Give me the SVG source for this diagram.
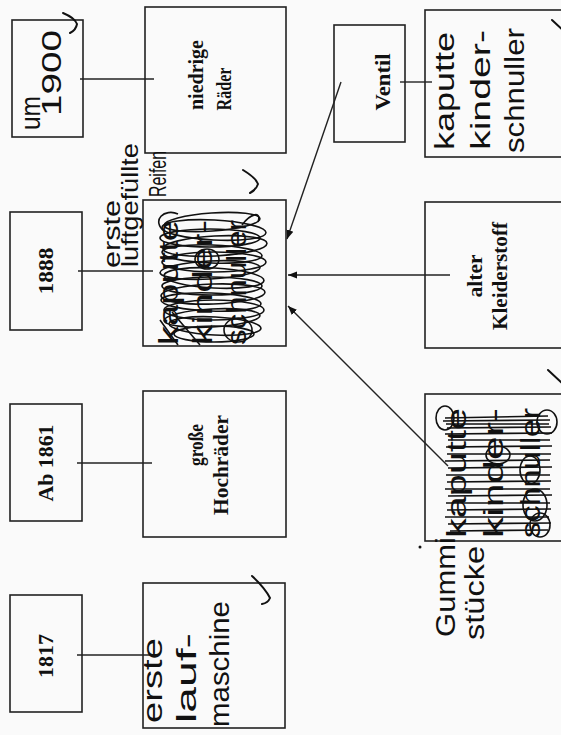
<svg xmlns="http://www.w3.org/2000/svg" width="561" height="735" viewBox="0 0 561 735">
<defs>
<style>
.box{fill:none;stroke:#222;stroke-width:1.6}
.ln{fill:none;stroke:#222;stroke-width:1.4}
.pr{font-family:"Liberation Serif",serif;font-weight:bold;font-size:22px;fill:#111;text-anchor:middle}
.hw{font-family:"Liberation Sans",sans-serif;font-size:27px;fill:#111}
.hs{font-family:"Liberation Sans",sans-serif;font-size:24px;fill:#111}
.scr{fill:none;stroke:#111;stroke-width:1.6}
.chk{fill:none;stroke:#111;stroke-width:2;stroke-linecap:round}
</style>
<marker id="ah" viewBox="0 0 10 10" refX="10" refY="5" markerWidth="9" markerHeight="9" orient="auto" markerUnits="userSpaceOnUse">
<path d="M0,1 L10,5 L0,9 z" fill="#111"/>
</marker>
</defs>
<rect width="561" height="735" fill="#fafafa"/>

<g id="connectors">
<line class="ln" x1="80" y1="79" x2="154" y2="79"/>
<line class="ln" x1="78" y1="271" x2="153" y2="271"/>
<line class="ln" x1="77" y1="463" x2="152" y2="463"/>
<line class="ln" x1="77" y1="655" x2="151" y2="655"/>
<line class="ln" x1="400" y1="82" x2="432" y2="82"/>
<line class="ln" x1="341" y1="82" x2="287" y2="239" marker-end="url(#ah)"/>
<line class="ln" x1="450" y1="275" x2="288" y2="275" marker-end="url(#ah)"/>
<line class="ln" x1="448" y1="466" x2="288" y2="306" marker-end="url(#ah)"/>
</g>

<g id="n-um1900">
<rect class="box" x="12" y="20" width="71" height="117"/>
<text class="hw" transform="translate(40,130) rotate(-90)" textLength="34" lengthAdjust="spacingAndGlyphs">um</text>
<text class="hw" transform="translate(61,116) rotate(-90)" textLength="86" lengthAdjust="spacingAndGlyphs">1900</text>
</g>

<g id="n-1888">
<rect class="box" x="10" y="212" width="72" height="118"/>
<text class="pr" transform="translate(53,271) rotate(-90)" textLength="47" lengthAdjust="spacingAndGlyphs">1888</text>
</g>

<g id="n-ab1861">
<rect class="box" x="10" y="404" width="72" height="117"/>
<text class="pr" transform="translate(53,463) rotate(-90)" textLength="77" lengthAdjust="spacingAndGlyphs">Ab 1861</text>
</g>

<g id="n-1817">
<rect class="box" x="10" y="595" width="72" height="117"/>
<text class="pr" transform="translate(53,656) rotate(-90)" textLength="44" lengthAdjust="spacingAndGlyphs">1817</text>
</g>

<g id="n-niedrige">
<rect class="box" x="145" y="7" width="141" height="146"/>
<text class="pr" transform="translate(203,75) rotate(-90)" textLength="70" lengthAdjust="spacingAndGlyphs">niedrige</text>
<text class="pr" transform="translate(231,89) rotate(-90)" textLength="43" lengthAdjust="spacingAndGlyphs">Räder</text>
</g>

<g id="n-reifen">
<rect class="box" x="143" y="200" width="143" height="146"/>
<text class="hs" transform="translate(120,268) rotate(-90)" textLength="68" lengthAdjust="spacingAndGlyphs">erste</text>
<text class="hs" transform="translate(138,267) rotate(-90)" textLength="124" lengthAdjust="spacingAndGlyphs">luftgefüllte</text>
<text class="hs" transform="translate(166,197) rotate(-90)" textLength="46" lengthAdjust="spacingAndGlyphs">Reifen</text>
<text class="hw" transform="translate(178,345) rotate(-90)" textLength="125" lengthAdjust="spacingAndGlyphs">kaputte</text>
<text class="hw" transform="translate(212,345) rotate(-90)" textLength="125" lengthAdjust="spacingAndGlyphs">kinder-</text>
<text class="hw" transform="translate(246,345) rotate(-90)" textLength="125" lengthAdjust="spacingAndGlyphs">schnuller</text>
<g class="scr">
<ellipse cx="212" cy="222" rx="48" ry="9" transform="rotate(-4 212 222)"/>
<ellipse cx="214" cy="230" rx="52" ry="10" transform="rotate(3 214 230)"/>
<ellipse cx="210" cy="238" rx="50" ry="9"/>
<ellipse cx="215" cy="246" rx="52" ry="10" transform="rotate(-3 215 246)"/>
<ellipse cx="212" cy="254" rx="50" ry="9" transform="rotate(2 212 254)"/>
<ellipse cx="214" cy="262" rx="52" ry="10"/>
<ellipse cx="210" cy="270" rx="50" ry="9" transform="rotate(-3 210 270)"/>
<ellipse cx="214" cy="278" rx="50" ry="10" transform="rotate(3 214 278)"/>
<ellipse cx="212" cy="286" rx="50" ry="9"/>
<ellipse cx="213" cy="294" rx="52" ry="10" transform="rotate(-2 213 294)"/>
<ellipse cx="211" cy="302" rx="50" ry="9" transform="rotate(2 211 302)"/>
<ellipse cx="214" cy="310" rx="50" ry="10"/>
<ellipse cx="212" cy="318" rx="48" ry="9" transform="rotate(-3 212 318)"/>
<ellipse cx="215" cy="326" rx="46" ry="9" transform="rotate(3 215 326)"/>
<ellipse cx="214" cy="334" rx="40" ry="8"/>
<ellipse cx="207" cy="259" rx="12" ry="10"/>
<ellipse cx="238" cy="330" rx="14" ry="12"/>
<path d="M165,232 C150,220 165,208 178,214 M242,225 C250,214 262,210 258,222 M178,345 L160,320 M200,345 L172,312"/>
</g>
</g>

<g id="n-hochraeder">
<rect class="box" x="143" y="391" width="143" height="146"/>
<text class="pr" transform="translate(203,445) rotate(-90)" textLength="42" lengthAdjust="spacingAndGlyphs">große</text>
<text class="pr" transform="translate(228,465) rotate(-90)" textLength="100" lengthAdjust="spacingAndGlyphs">Hochräder</text>
</g>

<g id="n-laufmaschine">
<rect class="box" x="143" y="583" width="142" height="145"/>
<text class="hw" transform="translate(162,723) rotate(-90)" textLength="85" lengthAdjust="spacingAndGlyphs">erste</text>
<text class="hw" transform="translate(196,723) rotate(-90)" textLength="90" lengthAdjust="spacingAndGlyphs">lauf-</text>
<text class="hw" transform="translate(229,727) rotate(-90)" textLength="126" lengthAdjust="spacingAndGlyphs">maschine</text>
</g>

<g id="n-ventil">
<rect class="box" x="334" y="25" width="71" height="117"/>
<text class="pr" transform="translate(390,82) rotate(-90)" textLength="57" lengthAdjust="spacingAndGlyphs">Ventil</text>
</g>

<g id="n-schnuller">
<rect class="box" x="425" y="10" width="150" height="147"/>
<text class="hw" transform="translate(454,150) rotate(-90)" textLength="118" lengthAdjust="spacingAndGlyphs">kaputte</text>
<text class="hw" transform="translate(490,150) rotate(-90)" textLength="120" lengthAdjust="spacingAndGlyphs">kinder-</text>
<text class="hw" transform="translate(524,153) rotate(-90)" textLength="125" lengthAdjust="spacingAndGlyphs">schnuller</text>
</g>

<g id="n-kleiderstoff">
<rect class="box" x="425" y="202" width="150" height="146"/>
<text class="pr" transform="translate(482,276) rotate(-90)" textLength="43" lengthAdjust="spacingAndGlyphs">alter</text>
<text class="pr" transform="translate(507,276) rotate(-90)" textLength="108" lengthAdjust="spacingAndGlyphs">Kleiderstoff</text>
</g>

<g id="n-gummi">
<rect class="box" x="425" y="394" width="150" height="147"/>
<text class="hw" transform="translate(466,538) rotate(-90)" textLength="130" lengthAdjust="spacingAndGlyphs">kaputte</text>
<text class="hw" transform="translate(503,538) rotate(-90)" textLength="130" lengthAdjust="spacingAndGlyphs">kinder-</text>
<text class="hw" transform="translate(540,538) rotate(-90)" textLength="130" lengthAdjust="spacingAndGlyphs">schnuller</text>
<g class="scr">
<path d="M445,418 L548,416 M443,421 L550,420 M446,424 L549,424 M447,428 L551,427 M445,434 L552,433 M448,440 L550,440 M446,447 L552,446 M447,454 L551,454 M445,461 L550,460 M448,468 L552,467 M446,475 L550,475 M447,482 L551,481 M445,489 L550,489 M448,496 L552,495 M446,503 L550,503 M447,510 L551,509 M445,517 L549,517 M448,524 L551,523 M450,531 L548,530"/>
<ellipse cx="445" cy="418" rx="9" ry="12"/>
<ellipse cx="547" cy="422" rx="10" ry="12"/>
<ellipse cx="498" cy="455" rx="12" ry="9"/>
<ellipse cx="530" cy="470" rx="10" ry="14"/>
<ellipse cx="535" cy="505" rx="12" ry="16"/>
<ellipse cx="540" cy="525" rx="10" ry="12"/>
</g>
<text class="hw" transform="translate(455,637) rotate(-90)" textLength="100" lengthAdjust="spacingAndGlyphs">Gummi</text>
<text class="hw" transform="translate(484,640) rotate(-90)" textLength="94" lengthAdjust="spacingAndGlyphs">stücke</text>
</g>

<g id="checkmarks">
<path class="chk" d="M63,13 Q75,18 77,24 Q76,30 70,33"/>
<path class="chk" d="M243,170 Q256,178 258,184 Q256,190 250,193"/>
<path class="chk" d="M252,576 Q265,588 270,598 Q268,603 262,604"/>
<path class="chk" d="M552,20 L565,32"/>
<path class="chk" d="M548,370 L565,386"/>
<circle cx="420" cy="547" r="1.5" fill="#111"/>
</g>
</svg>
